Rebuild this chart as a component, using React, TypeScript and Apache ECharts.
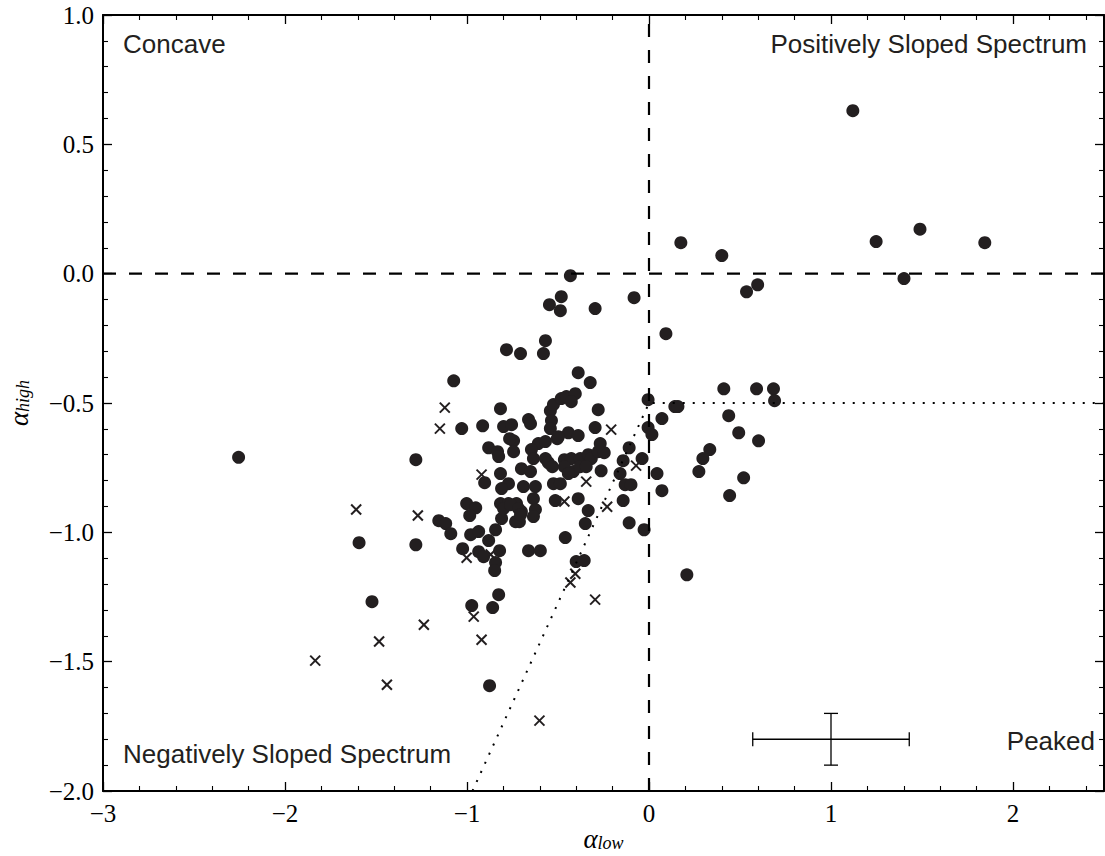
import React, { useEffect, useRef } from 'react';
import * as echarts from 'echarts';

// Sources with filled-circle markers: [alpha_low, alpha_high]
const circlePoints: [number, number][] = [
  [1.12, 0.63], [0.175, 0.12], [0.40, 0.07], [0.536, -0.07], [0.597, -0.043],
  [1.248, 0.124], [1.489, 0.172], [1.401, -0.019], [1.845, 0.12],
  [-0.432, -0.008], [-0.482, -0.089], [-0.547, -0.12], [-0.487, -0.143], [-0.296, -0.135],
  [-0.082, -0.093], [-0.569, -0.259], [-0.783, -0.294], [-0.706, -0.309], [-0.58, -0.309],
  [-0.389, -0.383], [-0.323, -0.421], [-1.073, -0.414],
  [0.093, -0.232], [0.411, -0.445], [0.591, -0.445], [0.684, -0.445], [0.69, -0.491],
  [-0.005, -0.487], [0.142, -0.514], [0.159, -0.514], [0.071, -0.56], [0.438, -0.549],
  [0.493, -0.615], [0.602, -0.646], [-0.005, -0.595], [0.016, -0.622], [0.334, -0.68],
  [0.296, -0.715], [0.274, -0.765], [0.52, -0.789], [0.443, -0.858], [0.044, -0.773],
  [0.071, -0.839], [-0.038, -0.715], [-0.109, -0.673], [-0.142, -0.723], [-0.159, -0.773],
  [-0.131, -0.816], [-0.099, -0.816], [-0.142, -0.877], [-0.109, -0.963], [-0.027, -0.99],
  [0.208, -1.164],
  [-1.029, -0.599], [-0.914, -0.588], [-0.816, -0.522], [-0.799, -0.591], [-0.755, -0.584],
  [-0.662, -0.564], [-0.651, -0.58], [-0.542, -0.53], [-0.525, -0.506], [-0.482, -0.483],
  [-0.454, -0.475], [-0.405, -0.464], [-0.427, -0.495], [-0.279, -0.526], [-0.296, -0.595],
  [-0.536, -0.568], [-0.542, -0.599], [-0.504, -0.638], [-0.443, -0.615], [-0.389, -0.626],
  [-0.744, -0.646], [-0.766, -0.638], [-0.881, -0.673], [-0.832, -0.688], [-0.826, -0.707],
  [-0.744, -0.688], [-0.608, -0.657], [-0.569, -0.649], [-0.646, -0.68], [-0.635, -0.715],
  [-0.569, -0.715], [-0.553, -0.731], [-0.531, -0.746], [-0.465, -0.719], [-0.427, -0.715],
  [-0.378, -0.715], [-0.334, -0.70], [-0.317, -0.715], [-0.279, -0.688], [-0.246, -0.692],
  [-0.268, -0.657], [-0.263, -0.762], [-0.416, -0.765], [-0.378, -0.746], [-0.345, -0.746],
  [-0.465, -0.746], [-0.443, -0.773], [-0.701, -0.754], [-0.651, -0.765], [-0.816, -0.773],
  [-0.903, -0.808], [-0.772, -0.812], [-0.69, -0.823], [-0.624, -0.823], [-0.525, -0.812],
  [-0.487, -0.812], [-0.81, -0.831], [-0.635, -0.87], [-0.515, -0.877], [-0.389, -0.87],
  [-1.002, -0.889], [-0.952, -0.905], [-0.985, -0.935], [-0.816, -0.889], [-0.772, -0.889],
  [-0.728, -0.889], [-0.701, -0.92], [-0.624, -0.912], [-0.635, -0.939], [-0.81, -0.947],
  [-0.712, -0.959], [-0.334, -0.916], [-0.35, -0.966], [-1.281, -0.719], [-1.281, -1.048],
  [-1.155, -0.955], [-1.117, -0.966], [-1.089, -1.005], [-0.98, -1.009], [-0.936, -0.997],
  [-0.843, -0.99], [-1.024, -1.063], [-0.936, -1.075], [-0.909, -1.094], [-0.821, -1.071],
  [-0.881, -1.032], [-0.843, -1.117], [-0.848, -1.148], [-0.826, -1.241], [-0.662, -1.071],
  [-0.597, -1.071], [-0.46, -1.02], [-0.40, -1.113], [-0.356, -1.109], [-0.974, -1.283],
  [-0.859, -1.291], [-0.876, -1.593], [-2.255, -0.71], [-1.593, -1.04], [-1.522, -1.268],
  [-0.799, -0.908], [-0.761, -0.893], [-0.733, -0.959], [-0.717, -0.908], [-0.706, -0.932],
  [-0.498, -0.63],
];

// Sources with cross markers
const crossPoints: [number, number][] = [
  [-1.122, -0.518], [-1.149, -0.599], [-0.208, -0.603], [-0.92, -0.777], [-0.345, -0.804],
  [-0.465, -0.881], [-0.23, -0.901], [-0.071, -0.742], [-1.27, -0.935], [-1.002, -1.098],
  [-0.87, -1.086], [-0.405, -1.16], [-0.432, -1.194], [-0.296, -1.26], [-0.963, -1.326],
  [-1.237, -1.357], [-0.92, -1.415], [-0.602, -1.728], [-1.609, -0.912], [-1.483, -1.422],
  [-1.834, -1.496], [-1.44, -1.589],
];

// Reference lines
const zeroVertical: [number, number][] = [[0, -2], [0, 1]];
const zeroHorizontal: [number, number][] = [[-3, 0], [2.5, 0]];
const peakedBoundary: [number, number][] = [[-0.97, -2.0], [0, -0.5], [2.5, -0.5]];

// Typical error bar: [x, y, xErr, yErr]
const typicalError: [number, number, number, number][] = [[1, -1.8, 0.43, 0.1]];

const xTicks = { min: -3, max: 2.5, interval: 1 };
const yTicks = { min: -2, max: 1, interval: 0.5 };

const INK = '#231f20';

const fmtMinus = (s: string) => s.replace('-', '\u2212');

export default function App() {
  const ref = useRef<HTMLDivElement>(null);
  useEffect(() => {
    if (!ref.current) return;
    const chart = echarts.init(ref.current, undefined, { renderer: 'svg' });
    const serif = 'Liberation Serif';
    const sans = 'Liberation Sans';
    const axisCommon = {
      axisLine: { show: true, onZero: false, lineStyle: { color: '#000', width: 2 } },
      axisTick: { show: true, inside: true, length: 9, lineStyle: { color: '#000', width: 1.3 } },
      minorTick: { show: true, splitNumber: 5, length: 5, lineStyle: { color: '#000', width: 1.1 } },
      splitLine: { show: false },
      minorSplitLine: { show: false },
    };
    const nameRich = {
      a: { fontFamily: serif, fontStyle: 'italic', fontSize: 27, color: '#000', lineHeight: 24 },
      s: { fontFamily: serif, fontStyle: 'italic', fontSize: 18, color: '#000', lineHeight: 22, padding: [8, 0, 0, 0] },
    };
    const option: any = {
      animation: false,
      grid: { left: 103, right: 1, top: 15, bottom: 65, containLabel: false, outerBoundsMode: 'none' },
      xAxis: [
        {
          type: 'value', ...xTicks, position: 'bottom', ...axisCommon,
          axisLabel: {
            show: true, showMaxLabel: false, margin: 10, color: '#000', fontFamily: serif, fontSize: 25,
            formatter: (v: number) => (v === 2.5 ? '' : fmtMinus(String(v))),
          },
          name: '{a|\u03b1}{s|low}', nameLocation: 'middle', nameGap: 36, nameMoveOverlap: false,
          nameTextStyle: { rich: nameRich },
        },
        { type: 'value', ...xTicks, position: 'top', ...axisCommon, axisLabel: { show: false } },
      ],
      yAxis: [
        {
          type: 'value', ...yTicks, position: 'left', ...axisCommon,
          axisLabel: {
            show: true, margin: 9, color: '#000', fontFamily: serif, fontSize: 25,
            formatter: (v: number) => fmtMinus(v.toFixed(1)),
          },
          name: '{a|\u03b1}{s|high}', nameLocation: 'middle', nameGap: 72, nameRotate: 90,
          nameTextStyle: { rich: nameRich },
        },
        { type: 'value', ...yTicks, position: 'right', ...axisCommon, axisLabel: { show: false } },
      ],
      series: [
        {
          type: 'line', data: zeroVertical, symbol: 'none', silent: true,
          lineStyle: { color: '#000', width: 2.2, type: [13, 13] },
        },
        {
          type: 'line', data: zeroHorizontal, symbol: 'none', silent: true,
          lineStyle: { color: '#000', width: 2.2, type: [13, 13] },
        },
        {
          type: 'line', data: peakedBoundary, symbol: 'none', silent: true,
          lineStyle: { color: '#000', width: 2, type: [2, 8] },
        },
        {
          type: 'scatter', data: circlePoints, symbol: 'circle', symbolSize: 13,
          itemStyle: { color: INK, opacity: 1 },
        },
        {
          type: 'custom', data: crossPoints,
          renderItem: (_p: any, api: any) => {
            const c = api.coord([api.value(0), api.value(1)]);
            const s = 5;
            const st = { stroke: INK, lineWidth: 2 };
            return {
              type: 'group',
              children: [
                { type: 'line', shape: { x1: c[0] - s, y1: c[1] - s, x2: c[0] + s, y2: c[1] + s }, style: st },
                { type: 'line', shape: { x1: c[0] - s, y1: c[1] + s, x2: c[0] + s, y2: c[1] - s }, style: st },
              ],
            };
          },
        },
        {
          type: 'custom', data: typicalError,
          renderItem: (_p: any, api: any) => {
            const x = api.value(0), y = api.value(1), ex = api.value(2), ey = api.value(3);
            const l = api.coord([x - ex, y]);
            const r = api.coord([x + ex, y]);
            const t = api.coord([x, y + ey]);
            const b = api.coord([x, y - ey]);
            const cap = 7;
            const st = { stroke: '#000', lineWidth: 1.3 };
            return {
              type: 'group',
              children: [
                { type: 'line', shape: { x1: l[0], y1: l[1], x2: r[0], y2: r[1] }, style: st },
                { type: 'line', shape: { x1: l[0], y1: l[1] - cap, x2: l[0], y2: l[1] + cap }, style: st },
                { type: 'line', shape: { x1: r[0], y1: r[1] - cap, x2: r[0], y2: r[1] + cap }, style: st },
                { type: 'line', shape: { x1: t[0], y1: t[1], x2: b[0], y2: b[1] }, style: st },
                { type: 'line', shape: { x1: t[0] - cap, y1: t[1], x2: t[0] + cap, y2: t[1] }, style: st },
                { type: 'line', shape: { x1: b[0] - cap, y1: b[1], x2: b[0] + cap, y2: b[1] }, style: st },
              ],
            };
          },
        },
      ],
      graphic: [
        { type: 'text', left: 123, top: 31, style: { text: 'Concave', font: `26px "${sans}"`, fill: '#231f20' } },
        { type: 'text', right: 18, top: 31, style: { text: 'Positively Sloped Spectrum', font: `26px "${sans}"`, fill: '#231f20' } },
        { type: 'text', left: 123, top: 741, style: { text: 'Negatively Sloped Spectrum', font: `26px "${sans}"`, fill: '#231f20' } },
        { type: 'text', right: 10, top: 728, style: { text: 'Peaked', font: `26px "${sans}"`, fill: '#231f20' } },
      ],
    };
    chart.setOption(option);
    return () => chart.dispose();
  }, []);
  return (
    <div
      ref={ref}
      style={{ position: 'fixed', left: 0, top: 0, width: 1105, height: 856, background: '#fff' }}
    />
  );
}
